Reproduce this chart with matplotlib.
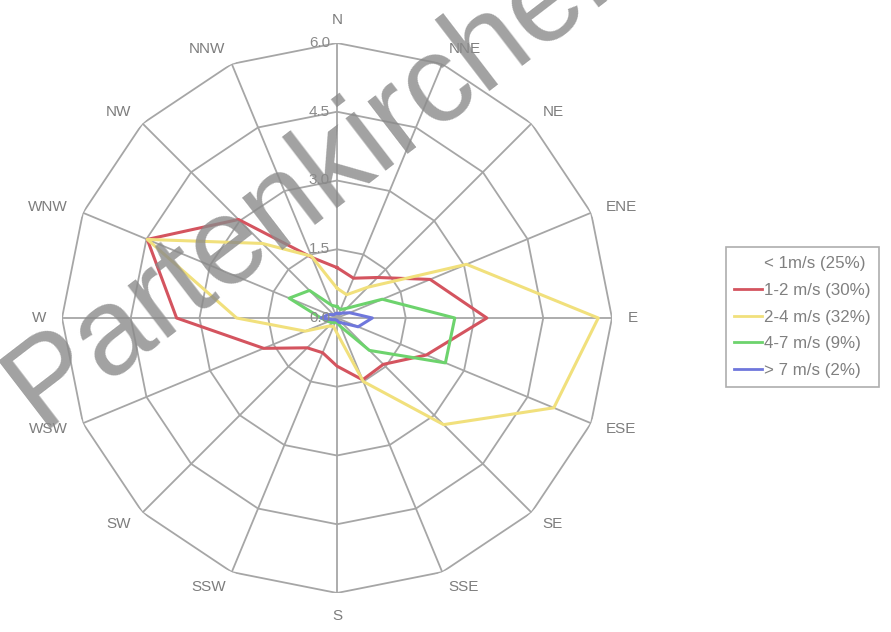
import numpy as np
import matplotlib.pyplot as plt
from matplotlib.lines import Line2D

plt.rcParams['font.family'] = ['Liberation Sans', 'DejaVu Sans']

# Windrichtungen (im Uhrzeigersinn ab Nord)
richtungen = ['N', 'NNE', 'NE', 'ENE', 'E', 'ESE', 'SE', 'SSE',
              'S', 'SSW', 'SW', 'WSW', 'W', 'WNW', 'NW', 'NNW']
ringe = [1.5, 3.0, 4.5, 6.0]
ring_labels = ['0.0', '1.5', '3.0', '4.5', '6.0']

# Haeufigkeiten je Richtung und Geschwindigkeitsklasse
v_1_2 = [1.1, 0.94, 1.25, 2.2, 3.27, 2.11, 1.43, 1.46,
         1.05, 0.82, 0.92, 1.73, 3.5, 4.48, 3.04, 1.43]
v_2_4 = [0.65, 0.55, 0.95, 3.06, 5.7, 5.12, 3.29, 1.5,
         0.33, 0.2, 0.25, 0.75, 2.19, 4.48, 2.3, 1.46]
v_4_7 = [0.25, 0.2, 0.3, 1.07, 2.57, 2.56, 1.0, 0.2,
         0.1, 0.1, 0.15, 0.2, 0.35, 1.13, 0.85, 0.3]
v_7 = [0.1, 0.1, 0.15, 0.3, 0.77, 0.5, 0.15, 0.1,
       0.05, 0.05, 0.05, 0.1, 0.35, 0.2, 0.1, 0.1]

klassen = ['< 1m/s (25%)', '1-2 m/s (30%)', '2-4 m/s (32%)',
           '4-7 m/s (9%)', '> 7 m/s (2%)']
farben = ['white', '#d4545f', '#f1e07c', '#6dd36d', '#6f77dc']

winkel = np.deg2rad(np.arange(16) * 22.5)
wz = np.append(winkel, winkel[0])

fig = plt.figure(figsize=(8.91, 6.32), dpi=100)
ax = fig.add_axes([62 / 891, 39 / 632, 550 / 891, 550 / 632], projection='polar')
ax.set_theta_zero_location('N')
ax.set_theta_direction(-1)
ax.set_ylim(0, 6)
ax.grid(False)
ax.set_xticks([])
ax.set_yticks([])
ax.spines['polar'].set_visible(False)
ax.patch.set_alpha(0)

gitter = '#a6a6a6'
for r in ringe:
    ax.plot(wz, [r] * len(wz), color=gitter, lw=1.3, zorder=1)
for w in winkel:
    ax.plot([w, w], [0, 6], color=gitter, lw=1.3, zorder=1)

for werte, c in zip([v_1_2, v_2_4, v_4_7, v_7], farben[1:]):
    ax.plot(wz, werte + werte[:1], color=c, lw=2.2, zorder=3)

# Skalenbeschriftung entlang der Nordachse
for r, lab in zip([0.0] + ringe, ring_labels):
    ax.annotate(lab, xy=(0, r), xytext=(-5, 0), textcoords='offset points',
                ha='right', va='center', fontsize=11, color='#8a8a8a',
                annotation_clip=False, zorder=4)

for w, name in zip(winkel, richtungen):
    s, c = np.sin(w), np.cos(w)
    ha = 'left' if s > 0.1 else ('right' if s < -0.1 else 'center')
    va = 'bottom' if c > 0.95 else ('top' if c < -0.95 else 'center')
    ax.text(w, 6.35, name, ha=ha, va=va, fontsize=11, color='#7d7d7d')

handles = [Line2D([], [], color=c, lw=2) for c in farben]
leg = fig.legend(handles, klassen, loc='center left',
                 bbox_to_anchor=(726 / 891, 1 - 317 / 632),
                 frameon=True, fancybox=False, edgecolor='#9a9a9a',
                 fontsize=12.2, labelcolor='#808080', handlelength=1.6,
                 handletextpad=0.15, labelspacing=0.7, borderpad=0.5,
                 borderaxespad=0)
leg.get_frame().set_linewidth(1.2)

fig.text(40 / 891, 1 - 428 / 632, 'Partenkirchen', rotation=37.5,
         rotation_mode='anchor', ha='left', va='baseline', fontsize=89,
         color='#8a8a8a', alpha=0.8, zorder=10)

plt.savefig('out.png', dpi=100)
